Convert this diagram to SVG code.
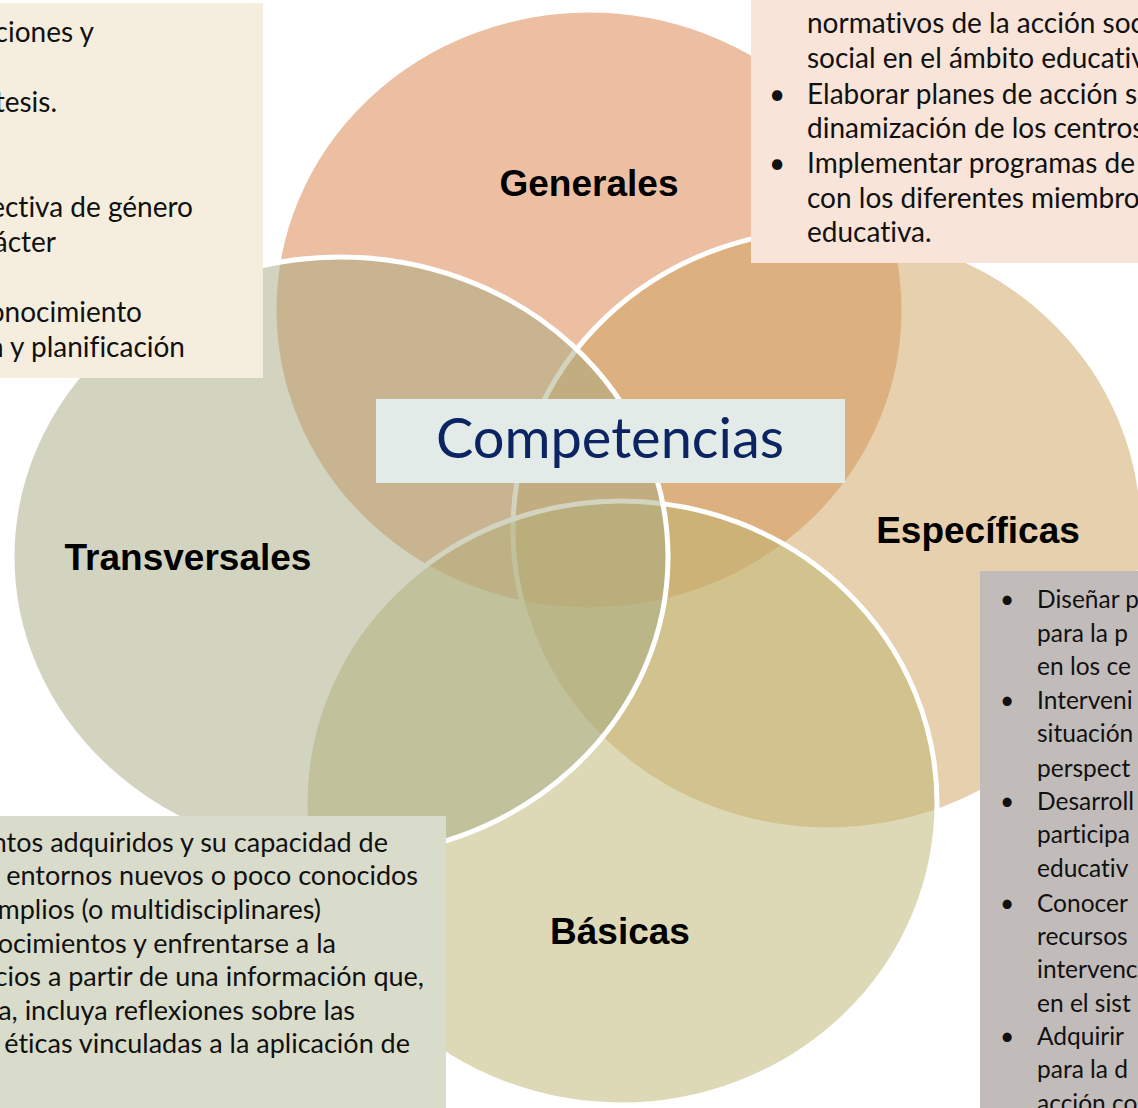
<svg xmlns="http://www.w3.org/2000/svg" width="1138" height="1108" viewBox="0 0 1138 1108">
<style>
.c{stroke:#fff;stroke-width:5;fill-opacity:0.5}
.lbl{font-family:"Liberation Sans",Arial,sans-serif;font-weight:bold;font-size:37px;fill:#000;text-anchor:middle}
.bx,.bs,.bm{font-family:Lato,"Open Sans",sans-serif;fill:#111;font-variant-ligatures:none;font-feature-settings:"liga" 0}
.bx{font-size:28px}
.bs{font-size:24.5px}
.bm{font-size:27px}
.e{text-anchor:end}
.m{text-anchor:middle}
</style>
<g id="generales">
<ellipse class="c" cx="589" cy="310" rx="315" ry="300" fill="#DB7F45"/>
<text class="lbl" x="589" y="196">Generales</text>
</g>
<g id="especificas">
<ellipse class="c" cx="828" cy="530" rx="315" ry="300" fill="#CDA15B"/>
<text class="lbl" x="978" y="543">Específicas</text>
</g>
<g id="basicas">
<ellipse class="c" cx="621" cy="803" rx="316" ry="302" fill="#BBB36F"/>
<text class="lbl" x="620" y="944">Básicas</text>
</g>
<g id="transversales">
<ellipse class="c" cx="340" cy="557" rx="328" ry="300" fill="#A5A981"/>
<text class="lbl" x="188" y="570">Transversales</text>
</g>
<g id="connectors"></g>
<g id="competencias">
<rect x="376" y="399" width="469" height="84" fill="#E2EBE8"/>
<text x="610" y="458" font-family="Lato,'Open Sans',sans-serif" font-size="56" fill="#0C2462" text-anchor="middle" textLength="348" lengthAdjust="spacingAndGlyphs">Competencias</text>
</g>
<g id="box-transversales-top">
<rect x="0" y="3" width="263" height="375" fill="#F5EEDE"/>
<text class="bx e" x="94" y="42">ciones y</text>
<text class="bx e" x="57" y="112">tesis.</text>
<text class="bx e" x="193" y="217">ectiva de género</text>
<text class="bx e" x="56" y="252">ácter</text>
<text class="bx e" x="142" y="322">onocimiento</text>
<text class="bx e" x="185" y="357">n y planificación</text>
</g>
<g id="box-generales">
<rect x="751" y="0" width="387" height="263" fill="#F8E4D8"/>
<text class="bx" x="807" y="33">normativos de la acción soc</text>
<text class="bx" x="807" y="68">social en el ámbito educativ</text>
<text class="bx m" x="777" y="104">•</text>
<text class="bx" x="807" y="104">Elaborar planes de acción s</text>
<text class="bx" x="807" y="138">dinamización de los centros</text>
<text class="bx m" x="777" y="173">•</text>
<text class="bx" x="807" y="173">Implementar programas de</text>
<text class="bx" x="807" y="208">con los diferentes miembro</text>
<text class="bx" x="807" y="242">educativa.</text>
</g>
<g id="box-basicas">
<rect x="0" y="816" width="446" height="292" fill="#DADCCB"/>
<text class="bm e" x="388" y="852">ntos adquiridos y su capacidad de</text>
<text class="bm e" x="418" y="885">entornos nuevos o poco conocidos</text>
<text class="bm e" x="321" y="919">mplios (o multidisciplinares)</text>
<text class="bm e" x="336" y="953">ocimientos y enfrentarse a la</text>
<text class="bm e" x="424" y="986">cios a partir de una información que,</text>
<text class="bm e" x="355" y="1020">a, incluya reflexiones sobre las</text>
<text class="bm e" x="410" y="1053">y éticas vinculadas a la aplicación de</text>
</g>
<g id="box-especificas">
<rect x="980" y="571" width="158" height="537" fill="#C1BCBA"/>
<text class="bs m" x="1007" y="608">•</text>
<text class="bs" x="1037" y="608">Diseñar p</text>
<text class="bs" x="1037" y="642">para la p</text>
<text class="bs" x="1037" y="675">en los ce</text>
<text class="bs m" x="1007" y="709">•</text>
<text class="bs" x="1037" y="709">Interveni</text>
<text class="bs" x="1037" y="742">situación</text>
<text class="bs" x="1037" y="777">perspect</text>
<text class="bs m" x="1007" y="810">•</text>
<text class="bs" x="1037" y="810">Desarroll</text>
<text class="bs" x="1037" y="843">participa</text>
<text class="bs" x="1037" y="877">educativ</text>
<text class="bs m" x="1007" y="912">•</text>
<text class="bs" x="1037" y="912">Conocer</text>
<text class="bs" x="1037" y="945">recursos</text>
<text class="bs" x="1037" y="978">intervenc</text>
<text class="bs" x="1037" y="1012">en el sist</text>
<text class="bs m" x="1007" y="1045">•</text>
<text class="bs" x="1037" y="1045">Adquirir</text>
<text class="bs" x="1037" y="1078">para la d</text>
<text class="bs" x="1037" y="1112">acción co</text>
</g>
</svg>
